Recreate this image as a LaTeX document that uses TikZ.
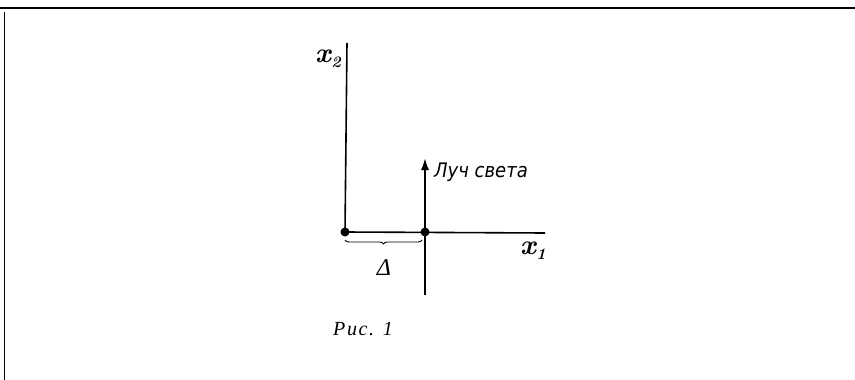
\documentclass[tikz,border=0pt]{standalone}
\usepackage{fontspec}
\usetikzlibrary{decorations.pathreplacing,arrows.meta}
\newfontfamily\rayfont{DejaVu Sans Condensed}
\newfontfamily\grkfont{Liberation Serif}
\newfontfamily\capfont[LetterSpace=8]{Liberation Serif}
\newcommand{\axlab}[1]{{\fontsize{28}{30}\selectfont\bfseries\itshape x\kern0.5pt\raisebox{-5pt}{\fontsize{16}{17}\selectfont #1}}}
\tikzset{
  frameline/.style={line width=1.2pt},
  axisline/.style={line width=1.6pt},
  rayline/.style={line width=2.6pt,-{Latex[length=13pt,width=8pt]}},
  dotnode/.style={circle,fill,inner sep=0pt,minimum size=9pt},
  lbl/.style={inner sep=0pt}
}
\begin{document}
\begin{tikzpicture}[x=1pt,y=-1pt]
\useasboundingbox (0,0) rectangle (855,380);
% frame
\coordinate (ftl) at (0,8);
\coordinate (ftr) at (855,8);
\coordinate (fl1) at (4,12);
\coordinate (fl2) at (4,380);
\draw[frameline] (ftl) -- (ftr);
\draw[line width=0.9pt] (fl1) -- (fl2);
% axes
\node[dotnode] (O) at (345,232) {};
\node[dotnode] (P) at (425,232) {};
\coordinate (x2top) at (347,43);
\coordinate (x1end) at (545,233);
\coordinate (raybot) at (425,295);
\coordinate (raytop) at (425,157);
\draw[axisline] (O.center) -- (x2top);
\draw[axisline] (O.center) -- (x1end);
\draw[rayline] (raybot) -- (raytop);
\draw[line width=0.9pt,decorate,decoration={brace,amplitude=4pt,mirror}] ([yshift=-8pt]O.center) -- ([xshift=-3pt,yshift=-8pt]P.center);
% labels
\node[lbl] (lx2) at (328,59) {\axlab{2}};
\node[lbl] (lx1) at (533,251) {\axlab{1}};
\node[lbl] (ld) at (384,268) {\fontsize{24}{26}\selectfont\grkfont\itshape Δ};
\node[lbl,anchor=west] (lray) at (434,172) {\fontsize{20}{22}\selectfont\rayfont\itshape Луч света};
\node[lbl,anchor=west] (cap) at (333,329) {\fontsize{20}{22}\selectfont\capfont\itshape Рис. 1};
\end{tikzpicture}
\end{document}
